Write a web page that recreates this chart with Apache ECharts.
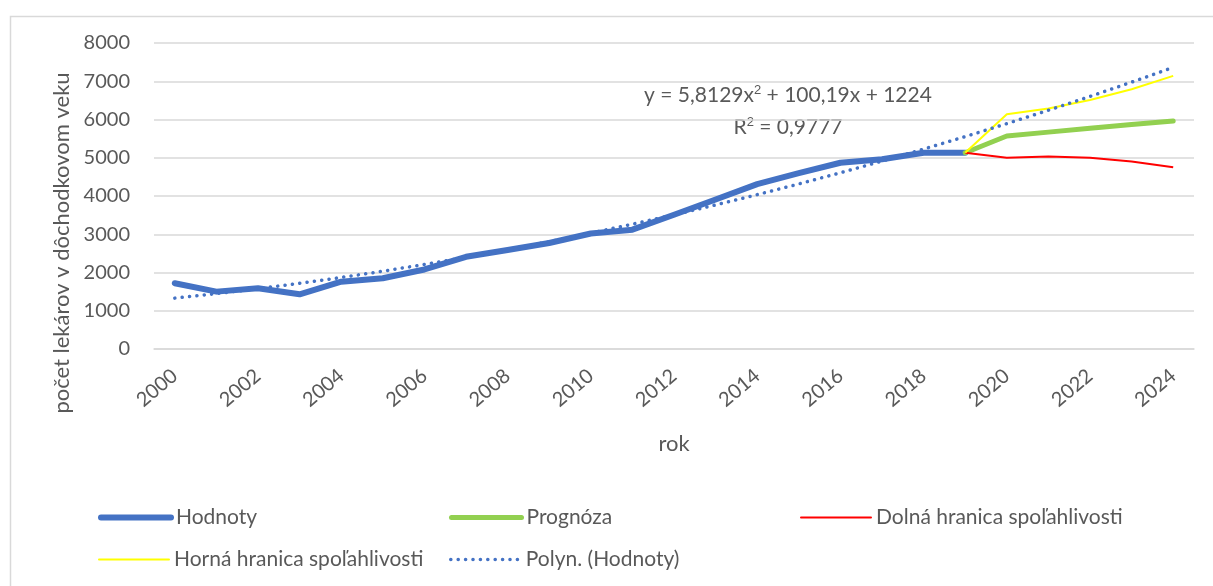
<!DOCTYPE html>
<html>
<head>
<meta charset="utf-8">
<script src="https://cdn.jsdelivr.net/npm/echarts@6/dist/echarts.min.js"></script>
<style>
  html, body { margin: 0; padding: 0; background: #fff; }
  #chart { width: 1213px; height: 586px; }
</style>
</head>
<body>
<div id="chart"></div>
<script>
// roky na osi x
const years = ['2000','2001','2002','2003','2004','2005','2006','2007','2008','2009','2010','2011',
  '2012','2013','2014','2015','2016','2017','2018','2019','2020','2021','2022','2023','2024'];

// namerane hodnoty 2000-2019
const hodnoty = [1720,1500,1590,1430,1760,1850,2080,2410,2590,2770,3020,3120,3510,3910,4310,4600,4870,4960,5130,5130];
// prognoza 2019-2024
const prognoza = [5130,5570,5670,5770,5870,5960];
const dolna = [5130,5000,5030,5000,4900,4750];
const horna = [5130,6135,6290,6510,6790,7140];
// polynomicky trend (odcitany z grafu)
const polyn = [1330,1448,1577,1718,1870,2034,2210,2398,2597,2807,3030,3263,3509,3766,4035,4315,4607,4911,5226,5553,5892,6242,6603,6977,7362];

const yTicks = [0,1000,2000,3000,4000,5000,6000,7000,8000];

const font = 'Lato, "Open Sans", sans-serif';
const grey = '#595959';
const dots = [0.1, 7.3];

// prognozy zacinaju v roku 2019
function pad(arr){
  let out = [];
  for(var i=0;i<years.length-arr.length;i++){ out.push(null) }
  return out.concat(arr);
}

const myChart = echarts.init(document.getElementById('chart'));

const legendPos = [
  {name:'Hodnoty', left:98, top:507, width:6, type:'solid'},
  {name:'Prognóza', left:449, top:507, width:5, type:'solid'},
  {name:'Dolná hranica spoľahlivosti', left:800, top:507, width:2, type:'solid'},
  {name:'Horná hranica spoľahlivosti', left:98, top:549, width:2, type:'solid'},
  {name:'Polyn. (Hodnoty)', left:449, top:549, width:3.5, type:dots}
];

const option = {
  animation: false,
  backgroundColor: '#fff',
  grid: { left: 154, right: 19, top: 43, bottom: 237, containLabel: false },
  legend: legendPos.map((l)=>{
    return {
      data: [l.name],
      left: l.left,
      top: l.top,
      padding: 0,
      itemWidth: 70,
      itemHeight: 14,
      itemGap: 0,
      itemStyle: { opacity: 0 },
      lineStyle: { width: l.width, type: l.type, cap: 'round' },
      textStyle: { fontFamily: font, fontSize: 21, color: grey }
    }
  }),
  xAxis: {
    type: 'category',
    data: years,
    boundaryGap: true,
    name: 'rok',
    nameLocation: 'middle',
    nameGap: 84,
    nameTextStyle: { fontFamily: font, fontSize: 22, color: grey },
    axisLine: { show: true, lineStyle: { color: '#D9D9D9', width: 1.5 } },
    axisTick: { show: false },
    axisLabel: {
      interval: 1,
      rotate: 40,
      margin: 24,
      fontFamily: font,
      fontSize: 20,
      color: grey
    }
  },
  yAxis: {
    type: 'value',
    min: 0,
    max: 8000,
    interval: 1000,
    axisLine: { show: false },
    axisTick: { show: false },
    axisLabel: {
      margin: 24,
      fontFamily: font,
      fontSize: 20,
      color: grey,
      formatter: (v)=> yTicks.indexOf(v) >= 0 ? String(v) : ''
    },
    splitLine: { lineStyle: { color: '#D9D9D9', width: 1.5 } }
  },
  graphic: [
    {
      type: 'rect',
      left: 8, top: 14,
      shape: { width: 1230, height: 600 },
      style: { fill: 'none', stroke: '#D9D9D9', lineWidth: 1.5 },
      silent: true
    },
    {
      type: 'text',
      x: 62, y: 243,
      rotation: Math.PI/2,
      style: {
        text: 'počet lekárov v dôchodkovom veku',
        font: '22px ' + font,
        fill: grey,
        textAlign: 'center',
        textVerticalAlign: 'middle'
      }
    },
    {
      type: 'text',
      x: 788, y: 95,
      style: {
        text: 'y = 5,8129x{sup|2} + 100,19x + 1224',
        font: '21px ' + font,
        fill: grey,
        textAlign: 'center',
        textVerticalAlign: 'middle',
        rich: { sup: { fontSize: 13, fill: grey, verticalAlign: 'top', padding: [0,0,9,0] } }
      }
    },
    {
      type: 'text',
      x: 788, y: 127,
      style: {
        text: 'R{sup|2} = 0,9777',
        font: '21px ' + font,
        fill: grey,
        textAlign: 'center',
        textVerticalAlign: 'middle',
        rich: { sup: { fontSize: 13, fill: grey, verticalAlign: 'top', padding: [0,0,9,0] } }
      }
    }
  ],
  series: [
    {
      name: 'Hodnoty',
      type: 'line',
      data: hodnoty,
      symbol: 'none',
      color: '#4472C4',
      lineStyle: { width: 6, color: '#4472C4', cap: 'round', join: 'round' }
    },
    {
      name: 'Prognóza',
      type: 'line',
      data: pad(prognoza),
      symbol: 'none',
      color: '#92D050',
      lineStyle: { width: 5, color: '#92D050', cap: 'round', join: 'round' }
    },
    {
      name: 'Dolná hranica spoľahlivosti',
      type: 'line',
      data: pad(dolna),
      symbol: 'none',
      color: '#FF0000',
      lineStyle: { width: 2, color: '#FF0000' }
    },
    {
      name: 'Horná hranica spoľahlivosti',
      type: 'line',
      data: pad(horna),
      symbol: 'none',
      color: '#FFFF00',
      lineStyle: { width: 2, color: '#FFFF00' }
    },
    {
      name: 'Polyn. (Hodnoty)',
      type: 'line',
      data: polyn,
      symbol: 'none',
      color: '#4472C4',
      lineStyle: { width: 3.5, color: '#4472C4', type: dots, cap: 'round' }
    }
  ]
};
myChart.setOption(option, true);
</script>
</body>
</html>
